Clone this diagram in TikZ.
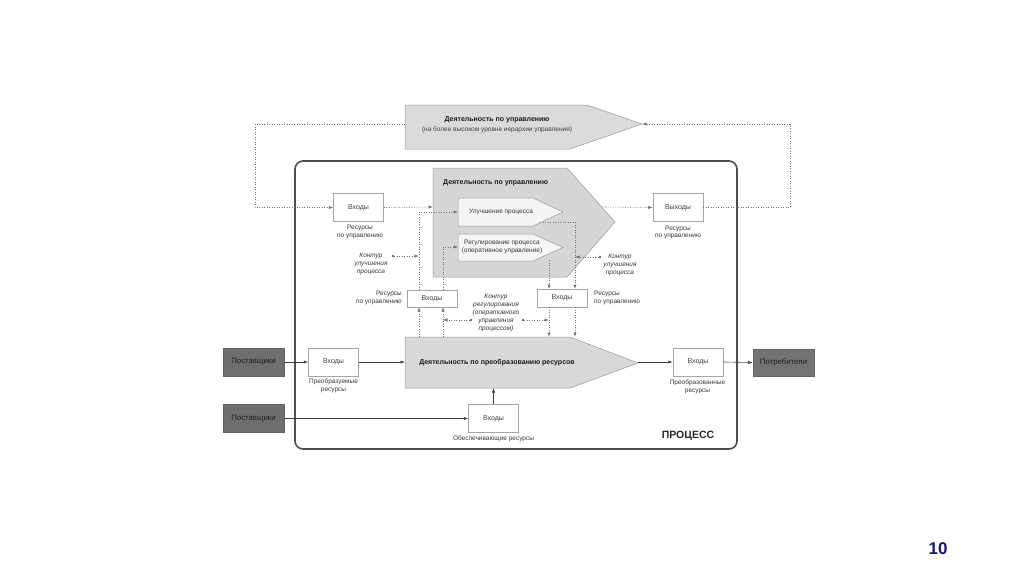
\documentclass[tikz,border=0pt]{standalone}
\usepackage{fontspec}
\setmainfont{Liberation Sans}
\usetikzlibrary{arrows.meta,calc}
\definecolor{pagenum}{HTML}{14147A}
\begin{document}
\begin{tikzpicture}[x=1pt,y=-1pt,
  txt/.style={font=\fontsize{6.5}{7.6}\selectfont, text=black!78, inner sep=0pt, align=center},
  ital/.style={font=\fontsize{6.5}{8}\selectfont\itshape, text=black!78, inner sep=0pt, align=center},
  ttl/.style={font=\fontsize{7}{8.6}\selectfont\bfseries, text=black!90, inner sep=0pt, align=center},
  sub/.style={font=\fontsize{6.5}{8}\selectfont, text=black!75, inner sep=0pt, align=center},
  inbox/.style={draw=black!35, fill=white, line width=0.5pt, minimum width=50pt, minimum height=28pt, inner sep=0pt, font=\fontsize{7}{8}\selectfont, text=black!75},
  smallbox/.style={inbox, minimum height=17.5pt},
  darkbox/.style={draw=black!62, fill=black!57, line width=0.5pt, minimum width=61pt, minimum height=28pt, inner sep=0pt, font=\fontsize{7.8}{9}\selectfont, text=black!88},
  dotl/.style={draw=black!55, line width=0.6pt, dash pattern=on 1pt off 1.5pt},
  dotar/.style={dotl, -{Latex[length=4.5pt,width=3.2pt]}},
  solar/.style={draw=black!75, line width=0.6pt, -{Latex[length=4.5pt,width=3.2pt]}},
  shp/.style={draw=black!40, line width=0.5pt, fill=black!16},
  ishp/.style={draw=black!40, line width=0.5pt, fill=black!4},
  dotpt/.style={circle, fill=black!75, inner sep=0pt, minimum size=2.4pt},
]
\useasboundingbox (0,0) rectangle (1024,574);
\fill[white] (0,0) rectangle (1024,574);

% ---------- upper-level management shape ----------
\draw[shp, fill=black!14] (405,105) -- (587,105) -- (642,124) -- (570,149) -- (405,149) -- cycle;
\node[ttl] (ttop) at (497,120) {Деятельность по управлению};
\node[sub] (tsub) at (497,130) {(на более высоком уровне иерархии управления)};
\coordinate (Ttip) at (642,124);
\coordinate (Tleft) at (405,124);

% ---------- process frame ----------
\draw[draw=black!70, line width=1.6pt, rounded corners=8pt] (295,161) rectangle (737,449);
\node[font=\fontsize{10.5}{12}\selectfont\bfseries, text=black!85, inner sep=0pt] (proc) at (688,436) {ПРОЦЕСС};

% ---------- management shape ----------
\draw[shp] (433,168) -- (567,168) -- (615,222) -- (567,277) -- (433,277) -- cycle;
\node[ttl, anchor=west] (mttl) at (443,183) {Деятельность по управлению};
\draw[ishp] (458,198) -- (533,198) -- (563,212) -- (533,226) -- (458,226) -- cycle;
\node[txt] (utxt) at (501,212) {Улучшение процесса};
\draw[ishp] (458,234) -- (533,234) -- (563,247.5) -- (533,261) -- (458,261) -- cycle;
\node[txt] (rtxt) at (502,247) {Регулирование процесса\\(оперативное управление)};
\coordinate (Mleft) at (433,207);
\coordinate (Mright) at (602.5,207);
\coordinate (Uw) at (458,212);
\coordinate (Rw) at (458,247);
\coordinate (Ue) at (540,222);
\coordinate (Ucorner) at (575,222);
\coordinate (Rs) at (549,260);

% ---------- transformation shape ----------
\draw[shp, fill=black!15] (405,337) -- (570,337) -- (638,363) -- (570,388) -- (405,388) -- cycle;
\node[ttl] (ptxt) at (497,363) {Деятельность по преобразованию ресурсов};
\coordinate (Pleft) at (405,362);
\coordinate (Ptip) at (638,362);
\coordinate (Pbot) at (493.5,388);
\coordinate (PtA) at (419,337);
\coordinate (PtB) at (443,337);
\coordinate (PtC) at (549,337);
\coordinate (PtD) at (575,337);

% ---------- boxes ----------
\node[inbox] (inTL) at (358.5,207.5) {Входы};
\node[inbox] (outTR) at (678,207.5) {Выходы};
\node[smallbox] (inML) at (432,298.5) {Входы};
\node[smallbox] (inMR) at (562,298) {Входы};
\node[darkbox] (sup1) at (253.5,362) {Поставщики};
\node[darkbox] (sup2) at (253.5,418.5) {Поставщики};
\node[inbox] (inBL) at (333.5,362) {Входы};
\node[inbox] (inB) at (493.5,418.5) {Входы};
\node[inbox] (outR) at (698,362) {Входы};
\node[darkbox, fill=black!55, minimum height=27pt] (cons) at (783.5,362.5) {Потребители};

% ---------- labels ----------
\node[txt] (l1) at (360,232) {Ресурсы\\по управлению};
\node[txt] (l2) at (678,232.5) {Ресурсы\\по управлению};
\node[txt] (l3) at (333.5,386) {Преобразуемые\\ресурсы};
\node[txt] (l4) at (697.5,387) {Преобразованные\\ресурсы};
\node[txt] (l5) at (493.5,439) {Обеспечивающие ресурсы};
\node[txt, anchor=east, align=right] (l6) at (402,298) {Ресурсы\\по управлению};
\node[txt, anchor=west, align=left] (l7) at (594,298) {Ресурсы\\по управлению};
\node[ital] (k1) at (371,264) {Контур\\улучшения\\процесса};
\node[ital] (k2) at (620,264.5) {Контур\\улучшения\\процесса};
\node[ital] (k3) at (496,312.5) {Контур\\регулирования\\(оперативного\\управления\\процессом)};

% ---------- outer dotted loop ----------
\coordinate (cR) at (790,124);
\coordinate (cL) at (255,124);
\draw[dotar] (outTR.east) -| (cR) -- (Ttip);
\draw[dotar] (Tleft) -- (cL) |- (inTL.west);
\draw[dotar] (inTL.east) -- (Mleft);
\draw[dotar] (Mright) -- (outTR.west);

% ---------- inner dotted links ----------
\coordinate (vA) at (419,290);
\coordinate (vB) at (443,290);
\coordinate (vAb) at (419,307);
\coordinate (vBb) at (443,307);
\coordinate (vC) at (549,289);
\coordinate (vD) at (575,289);
\coordinate (vCb) at (549,307);
\coordinate (vDb) at (575,307);
\draw[dotar] (vA) |- (Uw);
\draw[dotar] (vB) |- (Rw);
\draw[dotar] (PtA) -- (vAb);
\draw[dotar] (PtB) -- (vBb);
\draw[dotar] (Rs) -- (vC);
\draw[dotar] (Ue) -- (Ucorner) -- (vD);
\draw[dotar] (vCb) -- (PtC);
\draw[dotar] (vDb) -- (PtD);

% ---------- contour pointers ----------
\node[dotpt] (d1) at (393,256) {};
\coordinate (e1) at (419,256);
\draw[dotar] (d1) -- (e1);
\node[dotpt] (d2) at (600,257) {};
\coordinate (e2) at (575,257);
\draw[dotar] (d2) -- (e2);
\node[dotpt] (d3) at (471,320) {};
\coordinate (e3) at (443,320);
\draw[dotar] (d3) -- (e3);
\node[dotpt] (d4) at (523,320) {};
\coordinate (e4) at (549,320);
\draw[dotar] (d4) -- (e4);

% ---------- solid flows ----------
\draw[solar] (sup1.east) -- (inBL.west);
\draw[solar] (inBL.east) -- (Pleft);
\draw[solar] (Ptip) -- (outR.west);
\draw[solar] (outR.east) -- (cons.west);
\draw[solar] (sup2.east) -- (inB.west);
\draw[solar] (inB.north) -- (Pbot);

% ---------- page number ----------
\node[font=\fontsize{17}{20}\selectfont\bfseries, text=pagenum, inner sep=0pt] (pnum) at (938,549) {10};
\end{tikzpicture}
\end{document}
